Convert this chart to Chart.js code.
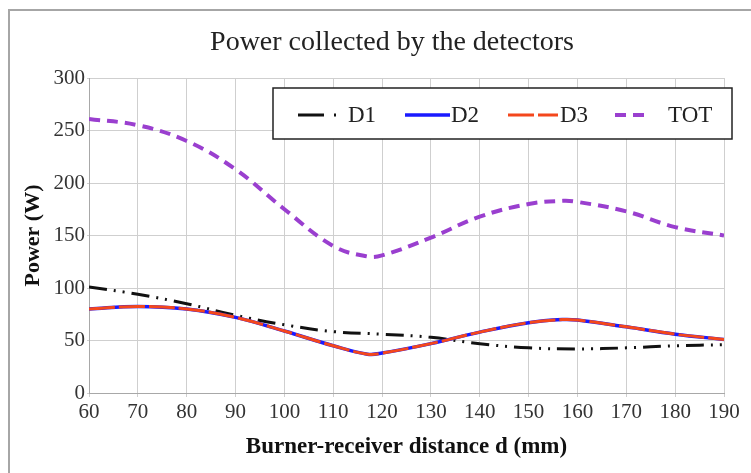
<!DOCTYPE html>
<html>
<head>
<meta charset="utf-8">
<script src="https://cdn.jsdelivr.net/npm/chart.js@4.4.1/dist/chart.umd.min.js"></script>
<style>
  html, body { margin: 0; padding: 0; background: #fff; }
  #wrap { width: 751px; height: 473px; position: relative; }
</style>
</head>
<body>
<div id="wrap"><canvas id="c" width="751" height="473"></canvas></div>
<script>
// Distanza bruciatore-ricevitore (mm)
const xTicks = [60, 70, 80, 90, 100, 110, 120, 130, 140, 150, 160, 170, 180, 190];
const yTicks = [0, 50, 100, 150, 200, 250, 300];

const distD1 = [60, 70, 80, 90, 100, 110, 120, 130, 140, 150, 160, 170, 180, 190];
const powerD1 = [101, 94, 85, 74, 65, 58.5, 56, 53, 47, 43, 42, 43, 45, 46];

const distD2 = [60, 70, 80, 90, 100, 110, 117, 120, 130, 140, 150, 157, 160, 170, 180, 190];
const powerD2 = [80, 82.5, 80, 72, 59, 45, 37, 38, 47, 58, 67, 70, 69.5, 63, 56, 51];
const powerD3 = [80, 82.5, 80, 72, 59, 45, 37, 38, 47, 58, 67, 70, 69.5, 63, 56, 51];

const distTot = [60, 70, 80, 90, 100, 110, 117, 120, 130, 140, 150, 157, 160, 170, 180, 190];
const powerTot = [261, 255, 240, 213, 175, 140, 130, 131, 148, 168, 180, 183, 182, 173, 158, 150];

const labels = ['D1', 'D2', 'D3', 'TOT'];

function pts(xs, ys) {
    return xs.map((x, i) => ({ x: x, y: ys[i] }));
}

const serif = "'Liberation Serif', 'Times New Roman', serif";

// Cornice + titolo + legenda disegnati a mano
const decor = {
    id: 'decor',
    beforeDraw(chart) {
        const ctx = chart.ctx;
        ctx.save();
        ctx.fillStyle = '#fff';
        ctx.fillRect(0, 0, chart.width, chart.height);
        ctx.strokeStyle = '#a6a6a6';
        ctx.lineWidth = 2;
        ctx.beginPath();
        ctx.moveTo(9, chart.height);
        ctx.lineTo(9, 10);
        ctx.lineTo(chart.width, 10);
        ctx.stroke();
        ctx.restore();
    },
    afterDraw(chart) {
        const ctx = chart.ctx;
        ctx.save();
        // titolo
        ctx.fillStyle = '#222';
        ctx.font = '28px ' + serif;
        ctx.textAlign = 'center';
        ctx.textBaseline = 'middle';
        ctx.fillText('Power collected by the detectors', 392, 43);

        // legenda
        ctx.fillStyle = '#fff';
        ctx.fillRect(273, 88, 459, 51);
        ctx.strokeStyle = '#222';
        ctx.lineWidth = 1.5;
        ctx.strokeRect(273, 88, 459, 51);

        const items = [
            { x0: 298, x1: 340, tx: 348, dash: [26, 10, 2, 10] },
            { x0: 405, x1: 450, tx: 451 },
            { x0: 508, x1: 558, tx: 560 },
            { x0: 615, x1: 648, tx: 668 }
        ];
        const ly = 115;
        chart.data.datasets.forEach((ds, i) => {
            const it = items[i];
            ctx.strokeStyle = ds.borderColor;
            ctx.lineWidth = ds.borderWidth;
            ctx.setLineDash(it.dash || ds.borderDash || []);
            ctx.beginPath();
            ctx.moveTo(it.x0, ly);
            ctx.lineTo(it.x1, ly);
            ctx.stroke();
            ctx.setLineDash([]);
            ctx.fillStyle = '#222';
            ctx.font = '23px ' + serif;
            ctx.textAlign = 'left';
            ctx.fillText(ds.label, it.tx, ly + 1);
        });
        ctx.restore();
    }
};

new Chart(document.getElementById('c'), {
    type: 'line',
    data: {
        datasets: [
            {
                label: labels[0],
                data: pts(distD1, powerD1),
                borderColor: '#111',
                borderWidth: 3,
                borderDash: [18, 7, 2, 7, 2, 7],
                pointRadius: 0,
                tension: 0.4,
                order: 3
            },
            {
                label: labels[1],
                data: pts(distD2, powerD2),
                borderColor: '#1a1aff',
                borderWidth: 3.5,
                pointRadius: 0,
                tension: 0.4,
                order: 2
            },
            {
                label: labels[2],
                data: pts(distD2, powerD3),
                borderColor: '#f4471c',
                borderWidth: 3,
                borderDash: [26, 4],
                pointRadius: 0,
                tension: 0.4,
                order: 1
            },
            {
                label: labels[3],
                data: pts(distTot, powerTot),
                borderColor: '#9a3fcf',
                borderWidth: 4,
                borderDash: [11, 7],
                pointRadius: 0,
                tension: 0.4,
                order: 0
            }
        ]
    },
    options: {
        responsive: false,
        animation: false,
        layout: { padding: { top: 78, left: 20, right: 27, bottom: 12 } },
        plugins: {
            legend: { display: false },
            title: { display: false },
            tooltip: { enabled: false }
        },
        scales: {
            x: {
                type: 'linear',
                min: xTicks[0],
                max: xTicks[xTicks.length - 1],
                afterBuildTicks(axis) { axis.ticks = xTicks.map(v => ({ value: v })); },
                afterFit(axis) { axis.height = 68; },
                grid: { color: '#cfcfcf', lineWidth: 1, tickLength: 4 },
                border: { color: '#a8a8a8' },
                ticks: {
                    color: '#333',
                    font: { family: serif, size: 21 },
                    padding: 3,
                    maxRotation: 0
                },
                title: {
                    display: true,
                    text: 'Burner-receiver distance d (mm)',
                    color: '#111',
                    font: { family: serif, size: 23, weight: 'bold' },
                    padding: { top: 2, bottom: 0 }
                }
            },
            y: {
                min: yTicks[0],
                max: yTicks[yTicks.length - 1],
                afterBuildTicks(axis) { axis.ticks = yTicks.map(v => ({ value: v })); },
                afterFit(axis) { axis.width = 69; },
                grid: { color: '#cfcfcf', lineWidth: 1, tickLength: 2 },
                border: { color: '#a8a8a8' },
                ticks: {
                    color: '#333',
                    font: { family: serif, size: 21 },
                    padding: 2
                },
                title: {
                    display: true,
                    text: 'Power (W)',
                    color: '#111',
                    font: { family: serif, size: 22, weight: 'bold' },
                    padding: { top: 0, bottom: 0 }
                }
            }
        }
    },
    plugins: [decor]
});
</script>
</body>
</html>
